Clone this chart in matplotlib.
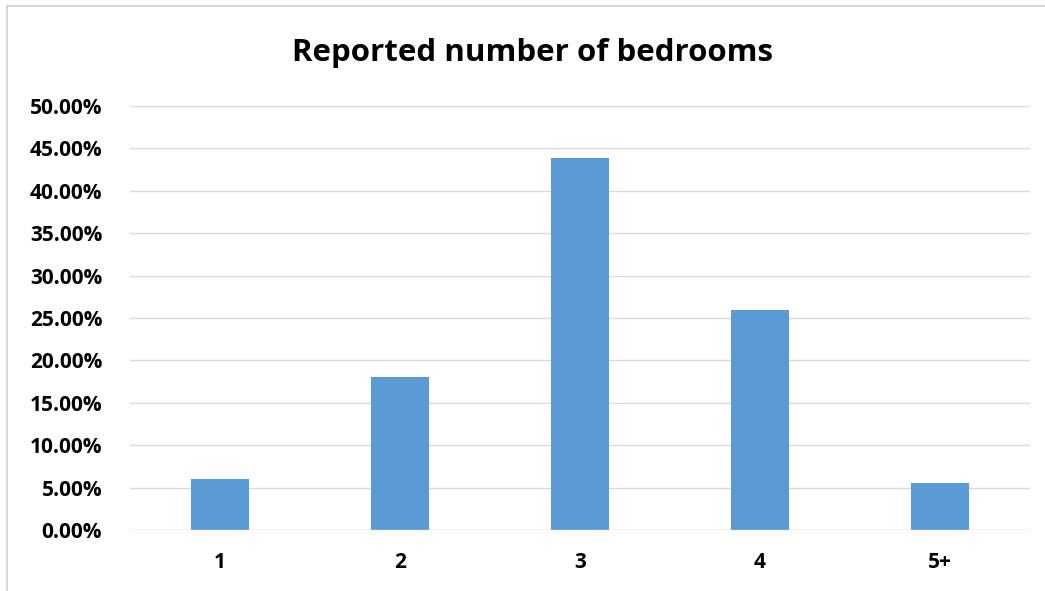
import matplotlib.pyplot as plt
from matplotlib.patches import Rectangle
from matplotlib.ticker import FuncFormatter

categories = ['1', '2', '3', '4', '5+']
shares = [6.0, 18.0, 43.9, 25.9, 5.6]

plt.rcParams['font.family'] = ['Open Sans', 'DejaVu Sans']

fig = plt.figure(figsize=(10.45, 5.91), dpi=100)
ax = fig.add_axes([130 / 1045, 61 / 591, 900 / 1045, 424 / 591])

ax.bar(range(len(categories)), shares, width=0.317, color='#5b9bd5', zorder=3)

ax.set_xlim(-0.5, len(categories) - 0.5)
ax.set_ylim(0, 50)
ax.set_yticks(range(0, 51, 5))
ax.yaxis.set_major_formatter(FuncFormatter(lambda v, p: f'{v:.2f}%'))
ax.set_xticks(range(len(categories)))
ax.set_xticklabels(categories)
ax.tick_params(length=0, labelsize=15, pad=16)
ax.tick_params(axis='y', pad=20)
for lab in ax.get_xticklabels() + ax.get_yticklabels():
    lab.set_fontweight('bold')

ax.grid(axis='y', color='#d9d9d9', linewidth=1, zorder=0)
for s in ax.spines.values():
    s.set_visible(False)
ax.axhline(0, color='#d9d9d9', linewidth=1, zorder=4)

fig.text(533 / 1045, 1 - 53 / 591, 'Reported number of bedrooms',
         ha='center', va='center', fontsize=22.5, fontweight='bold')

# outer chart border (cut off on the right and bottom)
fig.patches.append(Rectangle((7 / 1045, -0.05), 1.1, 1 - 6 / 591 + 0.05,
                             transform=fig.transFigure, fill=False,
                             edgecolor='#d0d0d0', linewidth=1.2))

fig.savefig('out.png', dpi=100)
